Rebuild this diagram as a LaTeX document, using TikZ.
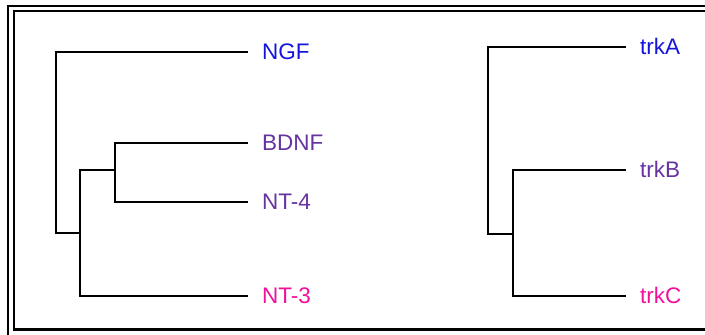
\documentclass[tikz,border=0pt]{standalone}
\usepackage{fontspec}
\setmainfont{Liberation Sans}
\usepackage{xcolor}
\usepackage{tikz}
\usetikzlibrary{positioning}
\definecolor{ngfBlue}{HTML}{1414DC}
\definecolor{bdnfPurple}{HTML}{6634A0}
\definecolor{nt3Pink}{HTML}{F2109A}

\begin{document}
\begin{tikzpicture}[x=1pt, y=-1pt, every node/.style={align=left}]
    \tikzset{leaf/.style={anchor=west,inner xsep=15pt,inner ysep=0pt,font=\fontsize{22.5}{22.5}\selectfont,text height=15.5pt,text depth=0pt}, branch/.style={line width=2.4pt,line cap=rect,line join=miter}, frameline/.style={line width=2.6pt}}
    \useasboundingbox (0,0) rectangle (705,335);
    \clip (0,0) rectangle (705,335);
    \fill[white] (0,0) rectangle (705,335);
    % double frame, runs off the right and bottom edge
    \draw[frameline] (8,6) rectangle (730,350);
    \draw[frameline] (14,11) rectangle (720,329.5);
    % neurotrophins
    \node[leaf,text=ngfBlue] (ngf) at (247,52) {NGF};
    \node[leaf,text=bdnfPurple] (bdnf) at (247,143) {BDNF};
    \node[leaf,text=bdnfPurple] (nt4) at (247,202) {NT-4};
    \node[leaf,text=nt3Pink] (nt3) at (247,296) {NT-3};
    \coordinate (ntroot) at (56,233);
    \coordinate (ntlow) at (80,233);
    \coordinate (ntpair) at (115,170);
    \draw[branch] (ngf.west) -| (ntroot) -- (ntlow);
    \draw[branch] (bdnf.west) -| (ntpair) |- (nt4.west);
    \draw[branch] (ntpair) -| (ntlow) |- (nt3.west);
    % trk receptors
    \node[leaf,text=ngfBlue] (trka) at (625,47) {trkA};
    \node[leaf,text=bdnfPurple] (trkb) at (625,170) {trkB};
    \node[leaf,text=nt3Pink] (trkc) at (625,296) {trkC};
    \coordinate (trkroot) at (488,234);
    \coordinate (trkpair) at (513,234);
    \draw[branch] (trka.west) -| (trkroot) -- (trkpair);
    \draw[branch] (trkb.west) -| (trkpair) |- (trkc.west);
\end{tikzpicture}
\end{document}
